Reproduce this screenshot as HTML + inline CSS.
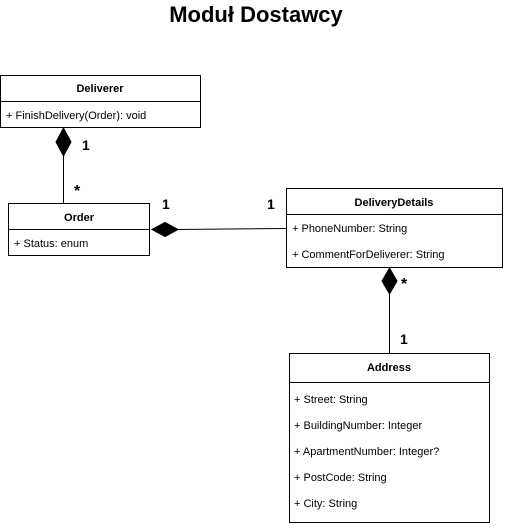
<!DOCTYPE html>
<html><head><meta charset="utf-8"><style>
html,body{margin:0;padding:0;background:#fff;}
svg{display:block;font-family:"Liberation Sans",Arial,sans-serif;}
</style></head><body>
<svg width="508" height="528" viewBox="0 0 508 528" xmlns="http://www.w3.org/2000/svg">
<rect width="508" height="528" fill="#fff"/>
<text x="256" y="22" text-anchor="middle" font-size="22" font-weight="bold">Moduł Dostawcy</text>

<!-- Deliverer -->
<rect x="0.5" y="75.5" width="200" height="52" fill="#fff" stroke="#000"/>
<line x1="0.5" y1="101.5" x2="200.5" y2="101.5" stroke="#000"/>
<text x="100" y="92" text-anchor="middle" font-size="11" font-weight="bold">Deliverer</text>
<text x="6" y="119" font-size="11">+ FinishDelivery(Order): void</text>

<!-- Deliverer-Order -->
<line x1="63.5" y1="155" x2="63.5" y2="203" stroke="#000"/>
<polygon points="63.5,128 71,142 63.5,156 56,142" fill="#000" stroke="#000"/>
<text x="82" y="150" font-size="14" font-weight="bold">1</text>
<text x="74" y="196" font-size="16" font-weight="bold">*</text>

<!-- Order -->
<rect x="8.5" y="203.5" width="141" height="52" fill="#fff" stroke="#000"/>
<line x1="8.5" y1="229.5" x2="149.5" y2="229.5" stroke="#000"/>
<text x="79" y="221" text-anchor="middle" font-size="11" font-weight="bold">Order</text>
<text x="14" y="247" font-size="11">+ Status: enum</text>

<!-- Order-DeliveryDetails -->
<line x1="177" y1="229.5" x2="286" y2="228.5" stroke="#000"/>
<polygon points="152,229.5 165,222.5 178,229.5 165,236.5" fill="#000" stroke="#000"/>
<text x="162" y="209" font-size="14" font-weight="bold">1</text>
<text x="267" y="209" font-size="14" font-weight="bold">1</text>

<!-- DeliveryDetails -->
<rect x="286.5" y="188.5" width="216" height="79" fill="#fff" stroke="#000"/>
<line x1="286.5" y1="214.5" x2="502.5" y2="214.5" stroke="#000"/>
<text x="394" y="206" text-anchor="middle" font-size="11" font-weight="bold">DeliveryDetails</text>
<text x="292" y="232" font-size="11">+ PhoneNumber: String</text>
<text x="292" y="258" font-size="11">+ CommentForDeliverer: String</text>

<!-- DeliveryDetails-Address -->
<line x1="389.5" y1="293" x2="389.5" y2="353" stroke="#000"/>
<polygon points="389.5,268 397,281 389.5,294 382,281" fill="#000" stroke="#000"/>
<text x="401" y="289" font-size="16" font-weight="bold">*</text>
<text x="400" y="344" font-size="14" font-weight="bold">1</text>

<!-- Address -->
<rect x="289.5" y="353.5" width="200" height="169" fill="#fff" stroke="#000"/>
<line x1="289.5" y1="382.5" x2="489.5" y2="382.5" stroke="#000"/>
<text x="389" y="371" text-anchor="middle" font-size="11" font-weight="bold">Address</text>
<text x="294" y="403" font-size="11">+ Street: String</text>
<text x="294" y="429" font-size="11">+ BuildingNumber: Integer</text>
<text x="294" y="455" font-size="11">+ ApartmentNumber: Integer?</text>
<text x="294" y="481" font-size="11">+ PostCode: String</text>
<text x="294" y="507" font-size="11">+ City: String</text>
</svg>
</body></html>
